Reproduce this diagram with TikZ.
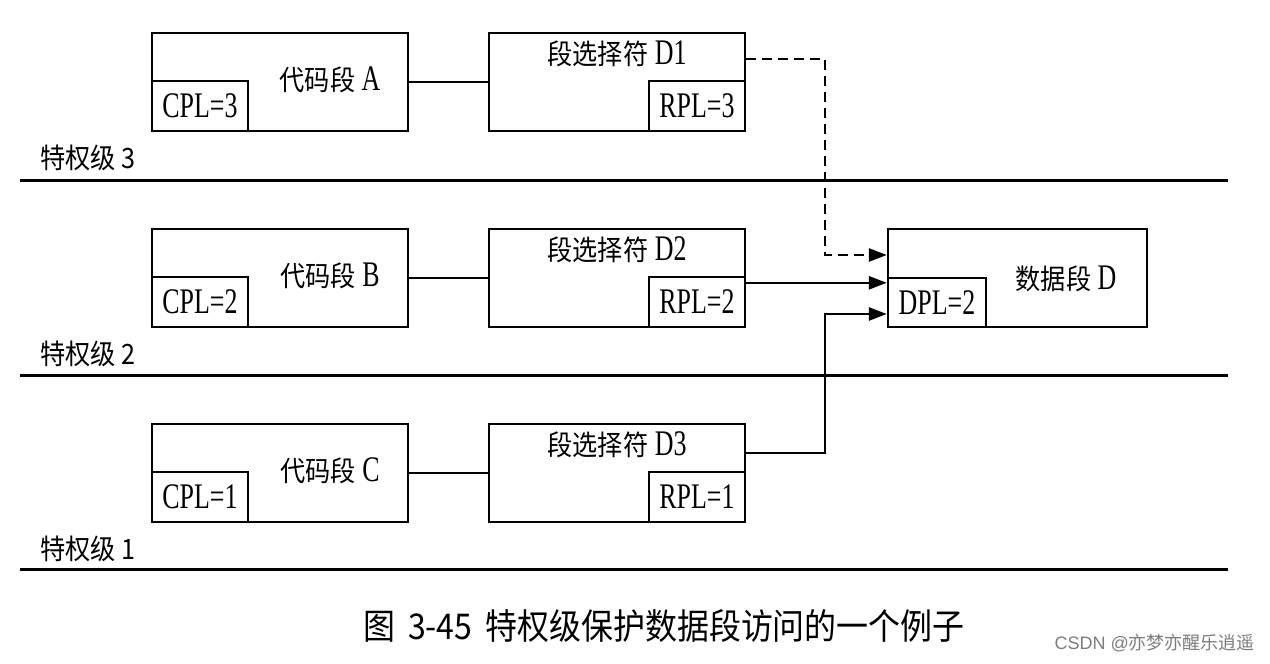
\documentclass[tikz,border=0pt]{standalone}
\usepackage{fontspec}
\setmainfont{Liberation Serif}[FakeStretch=0.72]
\newfontfamily\cjk{Noto Sans CJK SC}[FakeStretch=0.9]
\newfontfamily\capfont{Noto Sans CJK SC}[FakeStretch=0.9]
\newfontfamily\wmfont{Liberation Sans}
\newfontfamily\wmcjk{Noto Sans CJK SC}
\newcommand\cjt{\fontsize{28}{28}\selectfont\cjk}
\usetikzlibrary{arrows.meta,calc}
\definecolor{wm}{RGB}{125,125,125}
\begin{document}
\begin{tikzpicture}[x=1pt,y=-1pt,
  bigbox/.style={draw,line width=2.4pt,minimum width=256pt,minimum height=98pt,inner sep=0pt},
  smallbox/.style={draw,line width=2.4pt,minimum width=96pt,minimum height=50pt,inner sep=0pt},
  lbl/.style={inner sep=0pt,font=\fontsize{36}{36}\selectfont},
  cj/.style={inner sep=0pt,font=\fontsize{36}{36}\selectfont},
  lev/.style={inner sep=0pt,font=\fontsize{28}{28}\selectfont\cjk},
  level/.style={line width=3pt},
  conn/.style={line width=2.6pt},
  arr/.style={-{Triangle[length=18pt,width=13pt]}},
  dsh/.style={dash pattern=on 10pt off 6pt}]
\useasboundingbox (0,0) rectangle (1270,664);
\fill[white] (0,0) rectangle (1270,664);

% Row 1
\node[bigbox] (A) at (280,82) {};
\node[smallbox,anchor=south west] (cA) at (A.south west) {};
\node[lbl] at (cA.center) {CPL=3};
\node[cj] at (330,80) {{\cjt 代码段} A};
\node[bigbox] (D1) at (617,82) {};
\node[smallbox,anchor=south east] (rA) at (D1.south east) {};
\node[lbl] at (rA.center) {RPL=3};
\node[cj] at (617,54) {{\cjt 段选择符} D1};
\draw[conn] (A.east) -- (D1.west);

% Row 2
\node[bigbox] (B) at (280,278) {};
\node[smallbox,anchor=south west] (cB) at (B.south west) {};
\node[lbl] at (cB.center) {CPL=2};
\node[cj] at (330,276) {{\cjt 代码段} B};
\node[bigbox] (D2) at (617,278) {};
\node[smallbox,anchor=south east] (rB) at (D2.south east) {};
\node[lbl] at (rB.center) {RPL=2};
\node[cj] at (617,250) {{\cjt 段选择符} D2};
\draw[conn] (B.east) -- (D2.west);

% Row 3
\node[bigbox] (C) at (280,473) {};
\node[smallbox,anchor=south west] (cC) at (C.south west) {};
\node[lbl] at (cC.center) {CPL=1};
\node[cj] at (330,471) {{\cjt 代码段} C};
\node[bigbox] (D3) at (617,473) {};
\node[smallbox,anchor=south east] (rC) at (D3.south east) {};
\node[lbl] at (rC.center) {RPL=1};
\node[cj] at (617,445) {{\cjt 段选择符} D3};
\draw[conn] (C.east) -- (D3.west);

% Data segment D
\node[draw,line width=2.4pt,minimum width=259pt,minimum height=98pt,inner sep=0pt] (D) at (1017.5,278) {};
\node[draw,line width=2.4pt,minimum width=98pt,minimum height=49pt,inner sep=0pt,anchor=south west] (dD) at (D.south west) {};
\node[lbl] at (937,303) {DPL=2};
\node[cj] at (1066,279) {{\cjt 数据段} D};

% level lines
\coordinate (l3a) at (20,180); \coordinate (l3b) at (1228,180);
\coordinate (l2a) at (20,375); \coordinate (l2b) at (1228,375);
\coordinate (l1a) at (20,569); \coordinate (l1b) at (1228,569);
\draw[level] (l3a) -- (l3b);
\draw[level] (l2a) -- (l2b);
\draw[level] (l1a) -- (l1b);
\node[lev,anchor=west] (t3) at (40,158) {特权级 3};
\node[lev,anchor=west] (t2) at (40,354) {特权级 2};
\node[lev,anchor=west] (t1) at (40,549) {特权级 1};

% connectors to D
\coordinate (s1) at ($(D1.north east)+(0,27)$);
\coordinate (j1) at (825,255);
\draw[conn,dsh,arr] (s1) -| (j1) -- (j1 -| D.west);
\coordinate (s2) at ($(D2.north east)+(0,55)$);
\draw[conn,arr] (s2) -- (s2 -| D.west);
\coordinate (s3) at ($(D3.north east)+(0,30)$);
\coordinate (j3) at (825,314);
\draw[conn,arr] (s3) -| (j3) -- (j3 -| D.west);

% caption
\node[inner sep=0pt,anchor=west] (cap) at (363,626) {\fontsize{35.5}{36}\selectfont\capfont 图\hspace{13pt}3-45\hspace{13pt}特权级保护数据段访问的一个例子};
\node[inner sep=0pt,anchor=east,text=wm] (wmk) at (1255,643) {\fontsize{18}{18}\selectfont\wmfont CSDN @\wmcjk 亦梦亦醒乐逍遥};
\end{tikzpicture}
\end{document}
